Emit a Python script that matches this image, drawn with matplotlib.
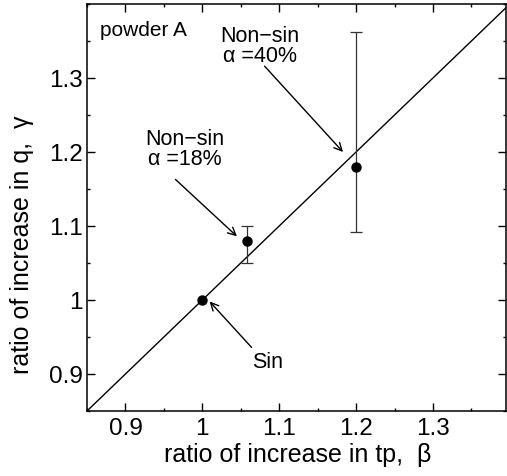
import matplotlib
matplotlib.use("Agg")
import matplotlib.pyplot as plt
from matplotlib.ticker import MultipleLocator, FixedLocator

plt.rcParams['font.family'] = ['Liberation Sans', 'DejaVu Sans']

# measured ratios (beta, gamma) with error limits on gamma
beta = [1.0, 1.058, 1.20]
gamma = [1.0, 1.08, 1.18]
gamma_lo = [1.0, 1.05, 1.092]
gamma_hi = [1.0, 1.10, 1.362]

xticks = [0.9, 1.0, 1.1, 1.2, 1.3]
xticklabels = ["0.9", "1", "1.1", "1.2", "1.3"]
yticks = [0.9, 1.0, 1.1, 1.2, 1.3]
yticklabels = ["0.9", "1", "1.1", "1.2", "1.3"]

fig = plt.figure(figsize=(5.07, 4.77), dpi=100)
ax = fig.add_axes([87 / 507, 65 / 477, 419 / 507, 407 / 477])

# identity line gamma = beta
ax.plot([0.85, 1.4], [0.85, 1.4], color='black', lw=1.0, zorder=2)

# error bars for the non-sinusoidal cases
for b, g, lo, hi in zip(beta[1:], gamma[1:], gamma_lo[1:], gamma_hi[1:]):
    ax.errorbar([b], [g], yerr=[[g - lo], [hi - g]], fmt='none',
                ecolor='#333333', elinewidth=0.9, capsize=4.5, capthick=0.9, zorder=3)
ax.plot(beta, gamma, 'o', color='black', ms=6.5, zorder=4)

ax.set_xlim(0.85, 1.395)
ax.set_ylim(0.85, 1.4)

ax.xaxis.set_major_locator(FixedLocator(xticks))
ax.set_xticklabels(xticklabels)
ax.yaxis.set_major_locator(FixedLocator(yticks))
ax.set_yticklabels(yticklabels)
ax.xaxis.set_minor_locator(MultipleLocator(0.05))
ax.yaxis.set_minor_locator(MultipleLocator(0.05))
ax.tick_params(which='both', direction='in', top=True, right=True, labelsize=17.5, width=1.0)
ax.tick_params(which='major', length=5.5)
ax.tick_params(which='minor', length=2.5)
ax.tick_params(axis='x', pad=4)
ax.tick_params(axis='y', pad=3)
for s in ax.spines.values():
    s.set_linewidth(1.1)

ax.set_xlabel("ratio of increase in tp,  β", fontsize=18)
ax.set_ylabel("ratio of increase in q,  γ", fontsize=18)
ax.xaxis.set_label_coords((298 - 87) / 419, (412 - 443) / 407)
ax.yaxis.set_label_coords((34 - 87) / 419, (412 - 245) / 407)

ax.text(0.867, 1.358, "powder A", fontsize=15, ha='left', va='baseline')

arrow = dict(arrowstyle='->', color='black', lw=1.0, shrinkA=0, shrinkB=0,
             mutation_scale=14)
ax.annotate("", xy=(1.183, 1.20), xytext=(1.081, 1.316), arrowprops=arrow)
ax.annotate("", xy=(1.045, 1.086), xytext=(0.965, 1.163), arrowprops=arrow)
ax.annotate("", xy=(1.0095, 0.998), xytext=(1.064, 0.936), arrowprops=arrow)

ax.text(1.0746, 1.3444, "Non−sin\nα =40%", fontsize=15.5, ha='center', va='center',
        linespacing=0.95)
ax.text(0.977, 1.2043, "Non−sin\nα =18%", fontsize=15.5, ha='center', va='center',
        linespacing=0.95)
ax.text(1.085, 0.909, "Sin", fontsize=15.5, ha='center', va='baseline')

fig.savefig("out.png", dpi=100)
